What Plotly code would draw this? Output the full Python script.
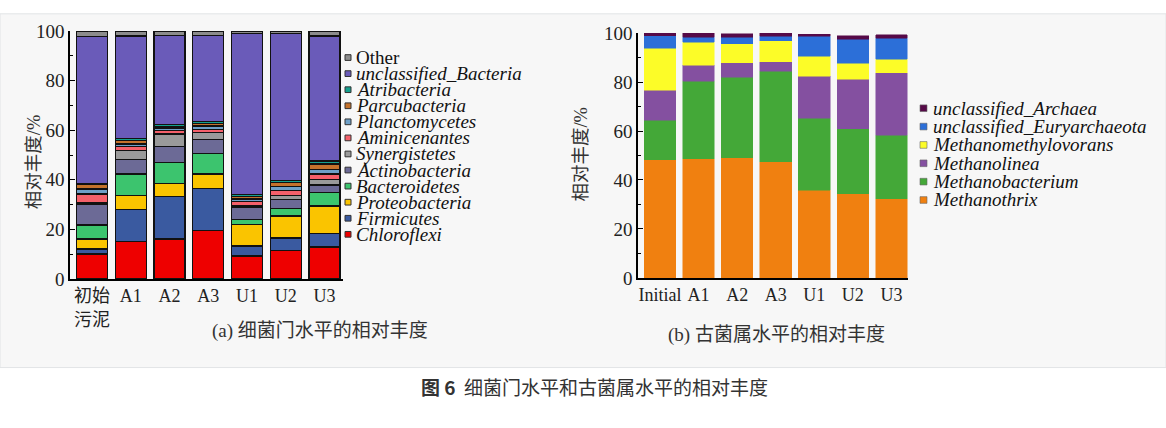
import plotly.graph_objects as go

W, H = 1166, 428
SERIF = "Liberation Serif, Noto Sans CJK SC"
CJK = "Noto Sans CJK SC"

# (a) bacteria, phylum level (stack order: bottom -> top)
bac_samples = ["初始<br>污泥", "A1", "A2", "A3", "U1", "U2", "U3"]
bac_names = ["Chloroflexi", "Firmicutes", "Proteobacteria", "Bacteroidetes", "Actinobacteria",
             "Synergistetes", "Aminicenantes", "Planctomycetes", "Parcubacteria", "Atribacteria",
             "unclassified_Bacteria", "Other"]
chloroflexi = [10.1, 15.2, 16.2, 19.5, 9.3, 11.4, 12.9]
firmicutes = [2.0, 12.8, 17.0, 16.9, 4.1, 5.2, 5.6]
proteobacteria = [4.1, 5.6, 5.4, 6.0, 8.6, 8.8, 11.0]
bacteroidetes = [5.6, 8.7, 8.5, 8.3, 2.1, 3.0, 5.4]
actinobacteria = [8.5, 5.8, 6.4, 5.6, 4.9, 3.8, 3.0]
synergistetes = [0.5, 3.6, 5.0, 2.7, 0.6, 1.6, 2.3]
aminicenantes = [3.5, 1.6, 1.3, 1.4, 1.7, 2.0, 2.1]
planctomycetes = [2.0, 1.2, 0.9, 1.3, 1.0, 1.6, 2.0]
parcubacteria = [1.8, 1.3, 0.6, 0.9, 0.9, 1.6, 2.1]
atribacteria = [0.5, 0.8, 0.9, 0.9, 0.9, 0.7, 1.2]
unclassified_bac = [59.2, 41.4, 36.0, 34.7, 64.9, 59.3, 50.4]
other_bac = [2.2, 2.0, 1.8, 1.8, 1.0, 1.0, 2.0]
bac_values = [chloroflexi, firmicutes, proteobacteria, bacteroidetes, actinobacteria,
              synergistetes, aminicenantes, planctomycetes, parcubacteria, atribacteria,
              unclassified_bac, other_bac]
bac_colors = ["#ee0000", "#3a5aa0", "#fac400", "#3cc46e", "#6c6a96", "#9a9a9a",
              "#f4606a", "#6ea0c8", "#c4722c", "#14a08e", "#6a5bb9", "#8c8c8c"]

# (b) archaea, genus level
arc_samples = ["Initial", "A1", "A2", "A3", "U1", "U2", "U3"]
arc_names = ["Methanothrix", "Methanobacterium", "Methanolinea", "Methanomethylovorans",
             "unclassified_Euryarchaeota", "unclassified_Archaea"]
methanothrix = [48.2, 48.7, 49.1, 47.5, 35.8, 34.3, 32.3]
methanobacterium = [16.2, 31.6, 32.8, 37.0, 29.4, 26.6, 26.0]
methanolinea = [12.3, 6.5, 5.9, 3.8, 17.1, 20.3, 25.6]
methanomethylovorans = [17.2, 9.4, 7.8, 8.5, 8.2, 6.5, 5.5]
unclassified_eury = [5.1, 2.2, 2.8, 1.9, 8.2, 9.8, 8.4]
unclassified_arc = [0.9, 1.5, 1.3, 1.2, 0.8, 1.5, 1.6]
arc_values = [methanothrix, methanobacterium, methanolinea, methanomethylovorans,
              unclassified_eury, unclassified_arc]
arc_colors = ["#f08010", "#44a838", "#8450a0", "#fcfc28", "#2c6fd8", "#560a48"]


def px_x(v):
    return v / W


def px_y(v):
    return 1 - v / H


fig = go.Figure()

for name, vals, col in zip(bac_names, bac_values, bac_colors):
    fig.add_trace(go.Bar(x=bac_samples, y=vals, name=name, marker_color=col,
                         marker_line=dict(color="#111111", width=1.3), width=0.8,
                         xaxis="x", yaxis="y", showlegend=False))

for name, vals, col in zip(arc_names, arc_values, arc_colors):
    fig.add_trace(go.Bar(x=arc_samples, y=vals, name=name, marker_color=col,
                         marker_line=dict(color=col, width=0.5), width=0.82,
                         xaxis="x2", yaxis="y2", showlegend=False))

axis_common = dict(showline=True, linecolor="black", linewidth=1.5, showgrid=False,
                   zeroline=False, tickfont=dict(family=SERIF, size=18, color="#222222"))
yaxis_common = dict(axis_common, range=[0, 100], dtick=20, ticks="inside", ticklen=5,
                    tickcolor="black", tickfont=dict(family=SERIF, size=19, color="#222222"),
                    minor=dict(ticks="inside", ticklen=3, dtick=10, tickcolor="black"))

fig.update_layout(
    width=W, height=H,
    margin=dict(l=0, r=0, t=0, b=0),
    paper_bgcolor="white", plot_bgcolor="rgba(0,0,0,0)",
    barmode="stack", bargap=0.2,
    xaxis=dict(axis_common, domain=[px_x(70), px_x(343)], range=[-0.57, 6.48],
               anchor="y", ticks=""),
    yaxis=dict(yaxis_common, domain=[px_y(283), px_y(22)], anchor="x"),
    xaxis2=dict(axis_common, domain=[px_x(638), px_x(908)], range=[-0.57, 6.43],
                anchor="y2", ticks=""),
    yaxis2=dict(yaxis_common, domain=[px_y(281.7), px_y(24.3)], anchor="x2"),
)

shapes = [dict(type="rect", xref="paper", yref="paper", x0=0, x1=1, y0=px_y(376), y1=px_y(4),
               fillcolor="#f7f7f7", line=dict(color="#e2e4e6", width=1), layer="below")]
annotations = []

# legend (a): top item is the last stacked series
for i, (name, col) in enumerate(zip(bac_names[::-1], bac_colors[::-1])):
    yc = 50 + 16.9 * i
    shapes.append(dict(type="rect", xref="paper", yref="paper",
                       x0=px_x(345), x1=px_x(351), y0=px_y(yc + 3), y1=px_y(yc - 3),
                       fillcolor=col, line=dict(color="#333333", width=1)))
    label = name if name == "Other" else "<i>%s</i>" % name
    annotations.append(dict(xref="paper", yref="paper", x=px_x(354), y=px_y(yc), text=label,
                            showarrow=False, xanchor="left", yanchor="middle",
                            font=dict(family=SERIF, size=19, color="#111111")))

# legend (b)
for i, (name, col) in enumerate(zip(arc_names[::-1], arc_colors[::-1])):
    yc = 103.3 + 19.3 * i
    shapes.append(dict(type="rect", xref="paper", yref="paper",
                       x0=px_x(920), x1=px_x(927), y0=px_y(yc + 3.5), y1=px_y(yc - 3.5),
                       fillcolor=col, line=dict(color="#666666", width=0.6)))
    annotations.append(dict(xref="paper", yref="paper", x=px_x(931), y=px_y(yc),
                            text="<i>%s</i>" % name, showarrow=False, xanchor="left",
                            yanchor="middle", font=dict(family=SERIF, size=19, color="#111111")))

# axis titles and captions
annotations += [
    dict(xref="paper", yref="paper", x=px_x(22), y=px_y(160), text="相对丰度/%", textangle=-90,
         showarrow=False, font=dict(family=SERIF, size=18.5, color="#333333")),
    dict(xref="paper", yref="paper", x=px_x(581), y=px_y(152), text="相对丰度/%", textangle=-90,
         showarrow=False, font=dict(family=SERIF, size=18.5, color="#333333")),
    dict(xref="paper", yref="paper", x=px_x(210), y=px_y(351), text="(a) 细菌门水平的相对丰度",
         showarrow=False, font=dict(family=SERIF, size=19, color="#333333")),
    dict(xref="paper", yref="paper", x=px_x(776), y=px_y(355), text="(b) 古菌属水平的相对丰度",
         showarrow=False, font=dict(family=SERIF, size=19, color="#333333")),
    dict(xref="paper", yref="paper", x=px_x(594), y=px_y(412),
         text="<b>图 6</b>  细菌门水平和古菌属水平的相对丰度",
         showarrow=False, font=dict(family=CJK, size=19, color="#333333")),
]

fig.update_layout(shapes=shapes, annotations=annotations)
# the page body has a default 8px margin; drop it so the figure sits at the window corner
fig.write_html("out.html", config={"displayModeBar": False},
               post_script="document.body.style.margin='0';")
